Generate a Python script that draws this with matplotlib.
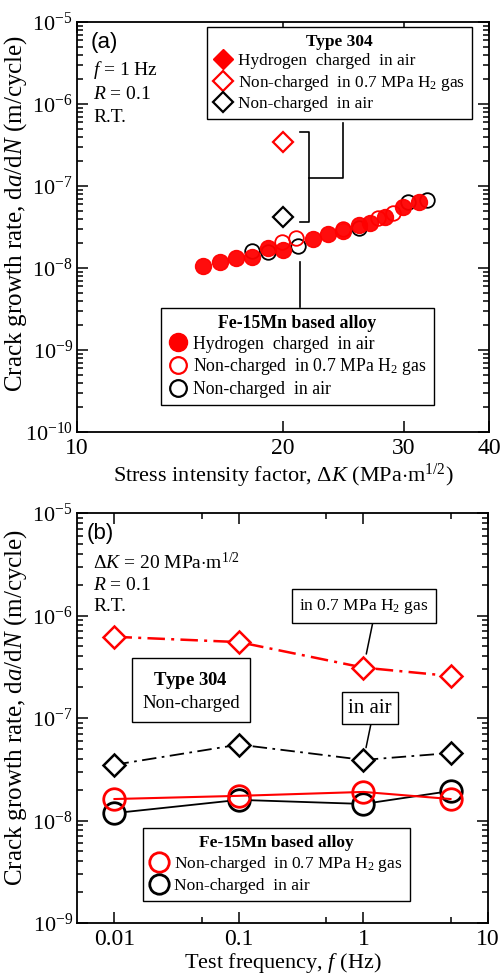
import numpy as np
import matplotlib
matplotlib.use('Agg')
import matplotlib.pyplot as plt
from matplotlib.lines import Line2D
from matplotlib.ticker import LogLocator, FixedLocator, NullLocator, NullFormatter, LogFormatterMathtext

plt.rcParams['font.family'] = ['Liberation Serif', 'DejaVu Serif']
plt.rcParams['mathtext.fontset'] = 'custom'
plt.rcParams['mathtext.rm'] = 'Liberation Serif'
plt.rcParams['mathtext.it'] = 'Liberation Serif:italic'
plt.rcParams['mathtext.bf'] = 'Liberation Serif:bold'

# ---- (a) da/dN vs dK, f = 1 Hz ----
# Fe-15Mn based alloy
mn_hc_dk = [15.3, 16.2, 17.1, 18.0, 19.0, 20.0, 22.1, 23.3, 24.5, 25.8, 26.8, 28.2, 29.9, 31.6]
mn_hc_rate = [1.07e-8, 1.17e-8, 1.31e-8, 1.38e-8, 1.73e-8, 1.68e-8, 2.23e-8, 2.57e-8,
              2.8e-8, 3.3e-8, 3.5e-8, 4.2e-8, 5.5e-8, 6.3e-8]
mn_h2_dk = [19.9, 20.9, 24.5, 27.5, 29.0]
mn_h2_rate = [2.1e-8, 2.3e-8, 2.95e-8, 4.1e-8, 4.7e-8]
mn_air_dk = [18.0, 19.0, 21.0, 25.8, 30.5, 32.5]
mn_air_rate = [1.59e-8, 1.55e-8, 1.83e-8, 3.1e-8, 6.4e-8, 6.8e-8]
# Type 304
ss_dk = [20.0]
ss_h2_rate = [3.4e-7]
ss_air_rate = [4.2e-8]

# ---- (b) da/dN vs frequency, dK = 20 MPa m^1/2 ----
freq = [0.01, 0.1, 1, 5]
ss_h2_f = [6.2e-7, 5.5e-7, 3.1e-7, 2.57e-7]
ss_air_f = [3.5e-8, 5.5e-8, 3.9e-8, 4.55e-8]
mn_h2_f = [1.62e-8, 1.74e-8, 1.9e-8, 1.62e-8]
mn_air_f = [1.18e-8, 1.59e-8, 1.45e-8, 1.94e-8]

lab_hc = 'Hydrogen  charged  in air'
lab_h2 = 'Non-charged  in 0.7 MPa H$_2$ gas'
lab_air = 'Non-charged  in air'
ylab = 'Crack growth rate, d$a$/d$N$ (m/cycle)'

fig = plt.figure(figsize=(5, 9.77), dpi=100)
W, H = 500, 977


def fig_xy(px, py):
    return px / W, 1 - py / H


def style_axis(ax):
    for s in ax.spines.values():
        s.set_linewidth(1.3)
    ax.tick_params(which='both', direction='in', top=True, right=True, width=1.1)
    ax.tick_params(which='major', length=8, pad=4)
    ax.tick_params(which='minor', length=4)
    ax.tick_params(axis='x', labelsize=17)
    ax.tick_params(axis='y', labelsize=16, pad=3)
    ax.yaxis.set_major_locator(LogLocator(base=10, numticks=20))
    ax.yaxis.set_minor_locator(LogLocator(base=10, subs=np.arange(2, 10), numticks=20))
    ax.yaxis.set_major_formatter(LogFormatterMathtext())
    ax.yaxis.set_minor_formatter(NullFormatter())


def make_legend(ax, handles, labels, title, px, py, fs=12):
    leg = ax.legend(handles, labels, title=title, loc='upper left',
                    bbox_to_anchor=fig_xy(px, py), bbox_transform=fig.transFigure,
                    frameon=True, fancybox=False, edgecolor='black', framealpha=1,
                    fontsize=fs, title_fontproperties={'weight': 'bold', 'size': fs},
                    borderpad=0.4, labelspacing=0.2, handletextpad=0.3,
                    handlelength=1.1, borderaxespad=0)
    leg.get_frame().set_linewidth(1.0)
    return leg


# ================= panel (a) =================
ax1 = fig.add_axes([77 / W, 1 - 432 / H, 412 / W, 410 / H])
ax1.set_xscale('log')
ax1.set_yscale('log')
ax1.set_xlim(10, 40)
ax1.set_ylim(1e-10, 1e-5)
style_axis(ax1)
ax1.xaxis.set_major_locator(FixedLocator([10, 20, 30, 40]))
ax1.xaxis.set_minor_locator(NullLocator())
ax1.set_xticklabels(['10', '20', '30', '40'])

ax1.plot(mn_air_dk, mn_air_rate, 'o', ms=10.5, mfc='none', mec='black', mew=1.3)
ax1.plot(mn_h2_dk, mn_h2_rate, 'o', ms=10.5, mfc='none', mec='red', mew=1.3)
ax1.plot(mn_hc_dk, mn_hc_rate, 'o', ms=11.5, mfc='red', mec='red', alpha=0.95)
ax1.plot(ss_dk, ss_h2_rate, 'D', ms=10, mfc='none', mec='red', mew=1.6)
ax1.plot(ss_dk, ss_air_rate, 'D', ms=10, mfc='none', mec='black', mew=1.6)

# bracket joining the two Type 304 points to the legend
brk_x = [21.2, 21.8, 21.8, 21.2]
brk_y = [4.5e-7, 4.5e-7, 3.6e-8, 3.6e-8]
ax1.plot(brk_x, brk_y, color='black', lw=1.2)
ax1.plot([21.8, 24.5, 24.5], [1.26e-7, 1.26e-7, 5.9e-7], color='black', lw=1.2)
# line from Fe-15Mn points to its legend
ax1.plot([21.2, 21.2], [1.17e-8, 3.3e-9], color='black', lw=1.2)

h304 = [Line2D([], [], ls='none', marker='D', ms=10, mfc='red', mec='red'),
        Line2D([], [], ls='none', marker='D', ms=10, mfc='none', mec='red', mew=1.6),
        Line2D([], [], ls='none', marker='D', ms=10, mfc='none', mec='black', mew=1.6)]
leg1 = make_legend(ax1, h304, [lab_hc, lab_h2, lab_air], 'Type 304', 207, 27, fs=12.4)
ax1.add_artist(leg1)
hmn = [Line2D([], [], ls='none', marker='o', ms=13, mfc='red', mec='red'),
       Line2D([], [], ls='none', marker='o', ms=12, mfc='none', mec='red', mew=1.6),
       Line2D([], [], ls='none', marker='o', ms=12, mfc='none', mec='black', mew=1.6)]
make_legend(ax1, hmn, [lab_hc, lab_h2, lab_air], 'Fe-15Mn based alloy', 161, 308, fs=12.8)

ax1.text(0.032, 0.951, '(a)', transform=ax1.transAxes, fontsize=16,
         family='Liberation Sans', va='center')
ax1.text(0.039, 0.883, '$f$ = 1 Hz', transform=ax1.transAxes, fontsize=14, va='center')
ax1.text(0.039, 0.822, '$R$ = 0.1', transform=ax1.transAxes, fontsize=14, va='center')
ax1.text(0.039, 0.766, 'R.T.', transform=ax1.transAxes, fontsize=14, va='center')

ax1.set_xlabel('Stress intensity factor, $\\Delta K$ (MPa$\\cdot$m$^{1/2}$)', fontsize=16, labelpad=2)
ax1.set_ylabel(ylab, fontsize=18)
ax1.yaxis.set_label_coords(-0.116, 0.534)

# ================= panel (b) =================
ax2 = fig.add_axes([77 / W, 1 - 923 / H, 411 / W, 410 / H])
ax2.set_xscale('log')
ax2.set_yscale('log')
ax2.set_xlim(0.005, 10)
ax2.set_ylim(1e-9, 1e-5)
style_axis(ax2)
ax2.xaxis.set_major_locator(FixedLocator([0.01, 0.1, 1, 10]))
ax2.xaxis.set_minor_locator(FixedLocator([0.05, 0.5, 5]))
ax2.xaxis.set_minor_formatter(NullFormatter())
ax2.set_xticklabels(['0.01', '0.1', '1', '10'])

ax2.plot(freq, ss_h2_f, color='red', lw=1.8, ls=(0, (7, 2.5, 1.2, 2.5)),
         marker='D', ms=11.5, mfc='white', mec='red', mew=1.8)
ax2.plot(freq, ss_air_f, color='black', lw=1.3, ls=(0, (8, 3, 1.5, 3)),
         marker='D', ms=11.5, mfc='white', mec='black', mew=1.8)
ax2.plot(freq, mn_air_f, color='black', lw=1.3, marker='o', ms=15.5,
         mfc='white', mec='black', mew=2.0)
ax2.plot(freq, mn_h2_f, color='red', lw=1.5, marker='o', ms=15.5,
         mfc='none', mec='red', mew=2.0)

box = dict(boxstyle='square,pad=0.45', fc='white', ec='black', lw=1.0)
ax2.annotate('in 0.7 MPa H$_2$ gas', xy=(freq[2], ss_h2_f[2]), xytext=(0.698, 0.773),
             textcoords='axes fraction', ha='center', va='center', fontsize=12.5, bbox=box,
             arrowprops=dict(arrowstyle='-', color='black', lw=1.1, relpos=(0.58, 0),
                             shrinkA=0, shrinkB=10))
ax2.annotate('in air', xy=(freq[2], ss_air_f[2]), xytext=(0.713, 0.524),
             textcoords='axes fraction', ha='center', va='center', fontsize=15,
             bbox=dict(boxstyle='square,pad=0.3', fc='white', ec='black', lw=1.0),
             arrowprops=dict(arrowstyle='-', color='black', lw=1.1, relpos=(0.55, 0),
                             shrinkA=0, shrinkB=9))
ax2.text(0.277, 0.566, '$\\mathbf{Type\\ 304}$\nNon-charged', transform=ax2.transAxes,
         ha='center', va='center', fontsize=13.5, linespacing=1.3,
         bbox=dict(boxstyle='square,pad=0.55', fc='white', ec='black', lw=1.0))

hb = [Line2D([], [], ls='none', marker='o', ms=14, mfc='none', mec='red', mew=2.0),
      Line2D([], [], ls='none', marker='o', ms=14, mfc='none', mec='black', mew=2.0)]
make_legend(ax2, hb, [lab_h2, lab_air], 'Fe-15Mn based alloy', 143, 828, fs=12.5)

ax2.text(0.024, 0.951, '(b)', transform=ax2.transAxes, fontsize=16,
         family='Liberation Sans', va='center')
ax2.text(0.039, 0.880, '$\\Delta K$ = 20 MPa$\\cdot$m$^{1/2}$', transform=ax2.transAxes,
         fontsize=14, va='center')
ax2.text(0.039, 0.824, '$R$ = 0.1', transform=ax2.transAxes, fontsize=14, va='center')
ax2.text(0.039, 0.771, 'R.T.', transform=ax2.transAxes, fontsize=14, va='center')

ax2.set_xlabel('Test frequency, $f$ (Hz)', fontsize=16, labelpad=1)
ax2.set_ylabel(ylab, fontsize=18)
ax2.yaxis.set_label_coords(-0.116, 0.525)

fig.savefig('out.png', dpi=100)
